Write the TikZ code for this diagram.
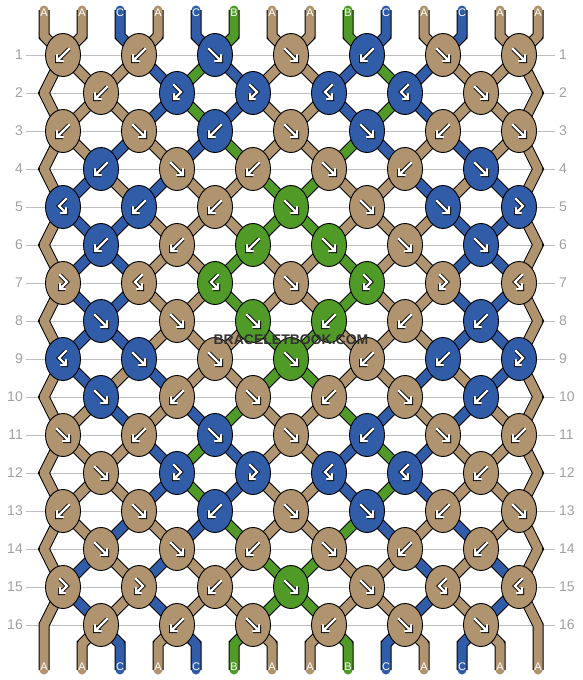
\documentclass[tikz,border=0pt]{standalone}
\usepackage{fontspec}
\setmainfont{Liberation Sans}
\usetikzlibrary{shapes.geometric,backgrounds}

\definecolor{colA}{RGB}{176,148,112}
\definecolor{colB}{RGB}{80,154,40}
\definecolor{colC}{RGB}{48,92,168}
\definecolor{rowgray}{RGB}{160,160,160}

% name of the knot (or edge point) that holds string place #3 in row #2
\newcommand\setelem[3]{%
  \ifodd#2\relax
    \pgfmathtruncatemacro\knum{(#3+1)/2}\edef#1{k#2-\knum}%
  \else
    \ifnum#3=1 \edef#1{eL#2}%
    \else\ifnum#3=14 \edef#1{eR#2}%
    \else\pgfmathtruncatemacro\knum{#3/2}\edef#1{k#2-\knum}%
    \fi\fi
  \fi}

\newcommand\glyphf{\draw[glyph] (-6,-6) -- (6,6) (6,0) -- (6,6) -- (0,6);}
\newcommand\glyphb{\draw[glyph] (6,-6) -- (-6,6) (-6,0) -- (-6,6) -- (0,6);}
\newcommand\glyphfb{\draw[glyph] (-3,-8) -- (4,-1) -- (-3,6) (-3,1) -- (-3,6) -- (2,6);}
\newcommand\glyphbf{\draw[glyph] (3,-8) -- (-4,-1) -- (3,6) (3,1) -- (3,6) -- (-2,6);}

\begin{document}
\begin{tikzpicture}[x=1pt, y=-1pt,
    knot/.style={ellipse, draw=black, line width=0.9pt,
        minimum width=35pt, minimum height=43pt, inner sep=0pt},
    glyph/.style={draw=white, line width=2.2pt, line cap=round, line join=miter,
        preaction={draw=black, line width=4pt}},
    strand/.style={draw=col#1, line width=9pt, line cap=round, line join=round,
        preaction={draw=black, line width=11pt}},
    rowline/.style={draw=rowgray!70, line width=0.8pt},
    rownum/.style={text=rowgray, font=\fontsize{14}{14}\selectfont, inner sep=0pt},
    tag/.style={text=white, font=\fontsize{11}{11}\selectfont, inner sep=0pt}
]
    \useasboundingbox (0,0) rectangle (582,680);

    \foreach \row/\knots in {
        1/{b/A,b/A,f/C,f/A,b/C,f/A,f/A},
        2/{b/A,fb/C,fb/C,bf/C,bf/C,f/A},
        3/{b/A,f/A,b/C,f/A,f/C,b/A,f/A},
        4/{b/C,f/A,b/A,f/A,b/A,f/C},
        5/{bf/C,b/C,b/A,f/B,f/A,f/C,fb/C},
        6/{b/C,b/A,b/B,f/B,f/A,f/C},
        7/{fb/A,bf/A,bf/B,f/A,fb/B,fb/A,bf/A},
        8/{f/C,f/A,f/B,b/B,b/A,b/C},
        9/{bf/C,f/C,f/A,f/B,b/A,b/C,fb/C},
        10/{f/C,b/A,f/A,b/A,f/A,b/C},
        11/{f/A,b/A,f/C,f/A,b/C,f/A,b/A},
        12/{f/A,fb/C,fb/C,bf/C,bf/C,b/A},
        13/{b/A,f/A,b/C,f/A,f/C,b/A,f/A},
        14/{f/A,f/A,b/A,f/A,b/A,b/A},
        15/{fb/A,fb/A,b/A,f/B,f/A,bf/A,bf/A},
        16/{b/A,b/A,f/A,b/A,f/A,f/A}}{
        \pgfmathsetmacro\yy{55+38*(\row-1)}
        \pgfmathsetmacro\xs{mod(\row,2)==1 ? 63 : 101}
        \foreach \kt/\kc [count=\kn] in \knots {
            \node[knot, fill=col\kc] (k\row-\kn) at ({\xs+76*(\kn-1)}, \yy) {};
            \begin{scope}[shift={(k\row-\kn.center)}]
                \csname glyph\kt\endcsname
            \end{scope}
        }
    }

    \begin{pgfonlayer}{background}
        \foreach \i in {1,...,16}{
            \pgfmathsetmacro\yy{55+38*(\i-1)}
            \draw[rowline] (26,\yy) -- (555,\yy);
        }
        \foreach \p in {1,...,14}{
            \pgfmathsetmacro\xx{44+38*(\p-1)}
            \coordinate (t\p) at (\xx,10);
            \coordinate (tb\p) at (\xx,36);
            \coordinate (bb\p) at (\xx,644);
            \coordinate (b\p) at (\xx,670);
        }
        \foreach \row in {2,4,...,16}{
            \pgfmathsetmacro\yy{55+38*(\row-1)}
            \coordinate (eL\row) at (44,\yy);
            \coordinate (eR\row) at (538,\yy);
        }
        \foreach \row/\cols in {
            0/{A,A,C,A,C,B,A,A,B,C,A,C,A,A},
            1/{A,A,A,C,B,C,A,A,C,B,C,A,A,A},
            2/{A,A,A,C,B,C,A,A,C,B,C,A,A,A},
            3/{A,A,C,A,C,B,A,A,B,C,A,C,A,A},
            4/{A,C,A,C,A,A,B,B,A,A,C,A,C,A},
            5/{A,C,C,A,A,A,B,B,A,A,A,C,C,A},
            6/{A,C,C,A,A,B,A,A,B,A,A,C,C,A},
            7/{A,C,C,A,A,B,A,A,B,A,A,C,C,A},
            8/{A,C,C,A,A,A,B,B,A,A,A,C,C,A},
            9/{A,C,A,C,A,A,B,B,A,A,C,A,C,A},
            10/{A,A,C,A,C,B,A,A,B,C,A,C,A,A},
            11/{A,A,A,C,B,C,A,A,C,B,C,A,A,A},
            12/{A,A,A,C,B,C,A,A,C,B,C,A,A,A},
            13/{A,A,C,A,C,B,A,A,B,C,A,C,A,A},
            14/{A,C,A,C,A,A,B,B,A,A,C,A,C,A},
            15/{A,C,A,C,A,A,B,B,A,A,C,A,C,A},
            16/{A,A,C,A,C,B,A,A,B,C,A,C,A,A}}{
            \pgfmathtruncatemacro\nxt{\row+1}
            \foreach \sc [count=\p] in \cols {
                \ifnum\row=0
                    \setelem\dnname{1}{\p}
                    \draw[strand=\sc] (t\p) -- (tb\p) -- (\dnname.center);
                \else\ifnum\row=16
                    \ifnum\p>1\relax\ifnum\p<14\relax
                        \setelem\upname{16}{\p}
                        \draw[strand=\sc] (\upname.center) -- (bb\p) -- (b\p);
                    \fi\fi
                \else\ifodd\row
                    \setelem\upname{\row}{\p}
                    \setelem\dnname{\nxt}{\p}
                    \ifnum\p=1 \def\isedge{1}\else\ifnum\p=14 \def\isedge{1}\else\def\isedge{0}\fi\fi
                    \ifnum\isedge=1
                        \ifnum\row=15
                            \draw[strand=\sc] (\upname.center) -- (\dnname.center) -- (b\p);
                        \else
                            \pgfmathtruncatemacro\nn{\row+2}
                            \setelem\nnname{\nn}{\p}
                            \draw[strand=\sc] (\upname.center) -- (\dnname.center) -- (\nnname.center);
                        \fi
                    \else
                        \draw[strand=\sc] (\upname.center) -- (\dnname.center);
                    \fi
                \else
                    \ifnum\p>1\relax\ifnum\p<14\relax
                        \setelem\upname{\row}{\p}
                        \setelem\dnname{\nxt}{\p}
                        \draw[strand=\sc] (\upname.center) -- (\dnname.center);
                    \fi\fi
                \fi\fi\fi
            }
        }
    \end{pgfonlayer}

    \foreach \i in {1,...,16}{
        \pgfmathsetmacro\yy{55+38*(\i-1)}
        \node[rownum, anchor=east] (nl\i) at (23,\yy) {\i};
        \node[rownum, anchor=west] (nr\i) at (559,\yy) {\i};
    }
    \foreach \tg [count=\p] in {A,A,C,A,C,B,A,A,B,C,A,C,A,A}{
        \node[tag] (tt\p) at ({44+38*(\p-1)}, 13) {\tg};
        \node[tag] (bt\p) at ({44+38*(\p-1)}, 667) {\tg};
    }
    \node[font=\bfseries\fontsize{14}{14}\selectfont, text=black!80, inner sep=1pt] (mark) at (291,340) {BRACELETBOOK.COM};
\end{tikzpicture}
\end{document}
